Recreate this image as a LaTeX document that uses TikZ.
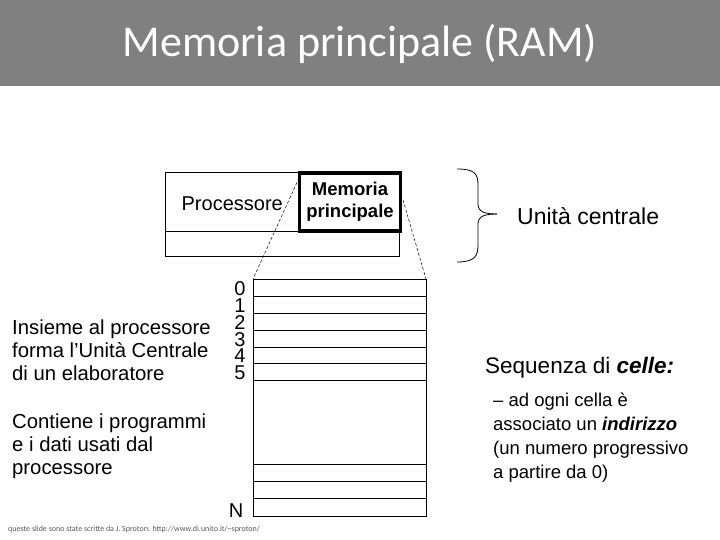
\documentclass[tikz,border=0pt]{standalone}
\usepackage{fontspec}
\setmainfont{Liberation Sans}
\newfontfamily\titlefont{Carlito}
\begin{document}
\begin{tikzpicture}[x=1pt,y=-1pt,
  lab/.style={inner sep=0pt,font=\fontsize{20}{22}\selectfont},
  cell/.style={draw,line width=0.8pt},
  zoomline/.style={densely dashed,line width=0.5pt}]
\useasboundingbox (0,0) rectangle (720,540);
\fill[fill={rgb,255:red,128;green,128;blue,128}] (0,0) rectangle (720,86);
\node[inner sep=0pt,text=white,font=\titlefont\fontsize{44}{48}\selectfont] (title) at (360,44) {Memoria principale (RAM)};
% processor box
\draw[line width=0.8pt] (165,172) rectangle (399,256);
\draw[line width=0.8pt] (165,231) -- (399,231);
\node[lab,anchor=east] (proc) at (283,204) {Processore};
\node[draw,line width=3.5pt,fill=white,minimum width=101pt,minimum height=58pt,align=center,inner sep=1pt,font=\bfseries\fontsize{18.5}{22}\selectfont] (mem) at (350,202) {Memoria\\principale};
% memory column
\coordinate (m0) at (253,279);
\draw[cell] (253,279) rectangle (426,516);
\foreach \y in {296,313,330,347,363,380,464,481,498} \draw[cell] (253,\y) -- (426,\y);
\draw[zoomline] (299,178) -- (m0);
\draw[zoomline] (403,200) -- (426,279);
\foreach \i/\y in {0/289,1/306,2/323,3/340,4/356,5/373}
  \node[lab,font=\fontsize{20}{20}\selectfont] (n\i) at (240,\y) {\i};
\node[lab,font=\fontsize{20}{20}\selectfont] (N) at (236,511) {N};
% brace
\draw[line width=0.8pt] (457,169) .. controls (475,169) and (478,174) .. (478,185) -- (478,204) .. controls (478,212) and (485,214) .. (497,214);
\draw[line width=0.8pt] (457,262) .. controls (475,262) and (478,256) .. (478,245) -- (478,224) .. controls (478,216) and (485,214) .. (497,214);
\node[lab,anchor=west,font=\fontsize{23}{24}\selectfont] (uc) at (517,216) {Unità centrale};
\node[lab,anchor=west,font=\fontsize{22.5}{24}\selectfont] (seq) at (485,368) {Sequenza di \textbf{\textit{celle:}}};
\node[lab,anchor=north west,align=left,font=\fontsize{18.5}{24}\selectfont] (desc) at (493,393) {– ad ogni cella è\\associato un \textbf{\textit{indirizzo}}\\(un numero progressivo\\a partire da 0)};
\node[lab,anchor=west,align=left,font=\fontsize{20.3}{23}\selectfont] (ins) at (12,350) {Insieme al processore\\forma l’Unità Centrale\\di un elaboratore};
\node[lab,anchor=west,align=left,font=\fontsize{20.3}{23}\selectfont] (cont) at (12,446) {Contiene i programmi\\e i dati usati dal\\processore};
\node[lab,anchor=west,text=gray!70!black,font=\titlefont\fontsize{8}{9}\selectfont] (foot) at (8,529) {queste slide sono state scritte da J. Sproton: http://www.di.unito.it/\textasciitilde sproton/};
\end{tikzpicture}
\end{document}
